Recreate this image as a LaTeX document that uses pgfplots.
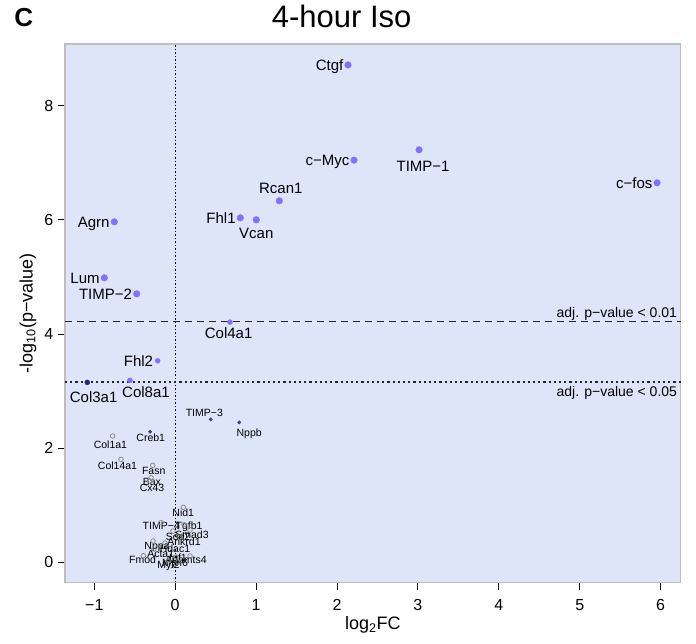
\documentclass[border=0pt]{standalone}
\usepackage{fontspec}
\setmainfont{Liberation Sans}
\usepackage{pgfplots}
\usepackage{pgfplotstable}
\pgfplotsset{compat=1.18}

\definecolor{bgblue}{HTML}{DCE6F8}
\definecolor{dotlight}{HTML}{8470FF}
\definecolor{dotdark}{HTML}{483D8B}
\definecolor{dotnavy}{HTML}{25256E}
\definecolor{framegray}{HTML}{BEBEBE}
\definecolor{opengray}{HTML}{8C8C8C}

\newcommand{\fs}[1]{\fontsize{#1}{#1}\selectfont}

% significant, large dots
\pgfplotstableread{
x y
2.136 8.713
2.210 7.046
3.014 7.226
5.956 6.648
1.287 6.333
0.805 6.035
1.002 6.000
-0.753 5.965
-0.876 4.984
-0.476 4.704
}\sigbig
% significant, medium dots
\pgfplotstableread{
x y
0.677 4.208
-0.216 3.531
-0.559 3.187
}\sigmed
\pgfplotstableread{
x y
-1.087 3.152
}\navy
\pgfplotstableread{
x y
0.439 2.504
0.792 2.452
-0.311 2.287
}\darksmall
% not significant
\pgfplotstableread{
x y
-0.773 2.213
-0.670 1.804
-0.278 1.699
-0.299 1.482
-0.315 1.424
0.100 0.964
-0.176 0.694
0.109 0.659
-0.027 0.548
0.183 0.566
0.059 0.443
-0.274 0.373
-0.126 0.338
-0.262 0.233
-0.394 0.116
0.183 0.110
0.010 0.093
-0.089 0.023
0.035 0.005
}\nonsig

\tikzset{
  big/.style={font=\fs{15}, inner sep=0pt, anchor=base, yshift=-5.4pt},
  bige/.style={font=\fs{15}, inner sep=0pt, anchor=base east, yshift=-5.4pt, xshift=-4.5pt},
  sm/.style={font=\fs{10.5}, inner sep=0pt, anchor=base, yshift=-3.8pt},
}

\begin{document}
\begin{tikzpicture}
\path[use as bounding box] (0,0) rectangle (696pt,644pt);
\begin{axis}[
  at={(65pt,61.7pt)}, anchor=south west,
  scale only axis, width=615.7pt, height=538.3pt,
  xmin=-1.362, xmax=6.248, ymin=-0.350, ymax=9.080,
  clip=false,
  axis background/.style={fill=bgblue},
  axis line style={draw=framegray, line width=1.2pt},
  tick align=outside, major tick length=7.5pt,
  tick style={black, line width=0.9pt},
  xtick pos=left, ytick pos=left,
  xtick={-1,0,...,6}, xticklabels={−1,0,1,2,3,4,5,6},
  ytick={0,2,4,6,8}, yticklabels={0,2,4,6,8},
  xticklabel style={font=\fs{16}, inner sep=0pt, anchor=north, yshift=-9pt},
  yticklabel style={font=\fs{16}, inner sep=0pt, anchor=east, xshift=-4pt},
  title={4-hour Iso},
  title style={font=\fs{31}, at={(axis description cs:0.4494,1.0409)}, anchor=center, inner sep=0pt},
  xlabel={log\textsubscript{2}FC},
  xlabel style={font=\fs{18}, at={(axis description cs:0.5,-0.0799)}, anchor=center, inner sep=0pt},
  ylabel={-log\textsubscript{10}(p−value)},
  ylabel style={font=\fs{18}, at={(axis description cs:-0.0601,0.5)}, anchor=center, rotate=0, inner sep=0pt},
]
% reference lines
\draw[black, line width=0.9pt, dash pattern=on 1.5pt off 2pt]
  (axis cs:0,-0.350) -- (axis cs:0,9.080);
\draw[black!85, line width=1.2pt, dash pattern=on 7pt off 5pt]
  (axis cs:-1.362,4.218) -- (axis cs:6.248,4.218);
\draw[black!85, line width=1.2pt, dash pattern=on 2.2pt off 3pt]
  (axis cs:-1.362,3.16) -- (axis cs:6.248,3.16);
\node[font=\fs{14}, inner sep=0pt, anchor=base east, xshift=-3.5pt, yshift=4pt]
  at (axis cs:6.248,4.218) {adj. p−value < 0.01};
\node[font=\fs{14}, inner sep=0pt, anchor=base east, xshift=-3.5pt, yshift=-14.5pt]
  at (axis cs:6.248,3.16) {adj. p−value < 0.05};

\addplot[only marks, mark=o, mark size=2.3pt, mark options={draw=opengray, line width=0.8pt}] table {\nonsig};
\addplot[only marks, mark=*, mark size=1.7pt, mark options={draw=dotdark, fill=dotdark}] table {\darksmall};
\addplot[only marks, mark=*, mark size=2.5pt, mark options={draw=dotnavy, fill=dotnavy}] table {\navy};
\addplot[only marks, mark=*, mark size=2.5pt, mark options={draw=dotlight, fill=dotlight}] table {\sigmed};
\addplot[only marks, mark=*, mark size=3.3pt, mark options={draw=dotlight, fill=dotlight}] table {\sigbig};

% large labels
\node[bige] at (axis cs:2.136,8.713) {Ctgf};
\node[bige] at (axis cs:2.210,7.046) {c−Myc};
\node[big, xshift=4pt, yshift=-16pt] at (axis cs:3.014,7.226) {TIMP−1};
\node[bige] at (axis cs:5.956,6.648) {c−fos};
\node[big, xshift=1.5pt, yshift=12.4pt] at (axis cs:1.287,6.333) {Rcan1};
\node[bige] at (axis cs:0.805,6.035) {Fhl1};
\node[big, yshift=-13.6pt] at (axis cs:1.002,6.000) {Vcan};
\node[bige] at (axis cs:-0.753,5.965) {Agrn};
\node[bige] at (axis cs:-0.876,4.984) {Lum};
\node[bige] at (axis cs:-0.476,4.704) {TIMP−2};
\node[big, xshift=-1.3pt, yshift=-10.7pt] at (axis cs:0.677,4.208) {Col4a1};
\node[bige] at (axis cs:-0.216,3.531) {Fhl2};
\node[big, xshift=16pt, yshift=-11.4pt] at (axis cs:-0.559,3.187) {Col8a1};
\node[big, xshift=6.4pt, yshift=-14.4pt] at (axis cs:-1.087,3.152) {Col3a1};

% small labels
\node[sm, xshift=-6.4pt, yshift=7pt] at (axis cs:0.439,2.504) {TIMP−3};
\node[sm, xshift=9.9pt, yshift=-10pt] at (axis cs:0.792,2.452) {Nppb};
\node[sm, xshift=0.7pt, yshift=-6pt] at (axis cs:-0.311,2.287) {Creb1};
\node[sm, xshift=-2.2pt, yshift=-8.3pt] at (axis cs:-0.773,2.213) {Col1a1};
\node[sm, xshift=-3.5pt, yshift=-6.4pt] at (axis cs:-0.670,1.804) {Col14a1};
\node[sm, xshift=1pt, yshift=-5pt] at (axis cs:-0.278,1.699) {Fasn};
\node[sm, xshift=0.8pt, yshift=-4pt] at (axis cs:-0.299,1.482) {Bax};
\node[sm, xshift=2.3pt, yshift=-6.7pt] at (axis cs:-0.315,1.424) {Cx43};
\node[sm, yshift=-5.4pt] at (axis cs:0.100,0.964) {Nid1};
\node[sm, xshift=0.3pt, yshift=-3.3pt] at (axis cs:-0.176,0.694) {TIMP−4};
\node[sm, xshift=5pt, yshift=-1.3pt] at (axis cs:0.109,0.659) {Tgfb1};
\node[sm, xshift=5pt, yshift=-5.7pt] at (axis cs:-0.027,0.548) {Sod2};
\node[sm, xshift=2pt, yshift=-5pt] at (axis cs:0.183,0.566) {Smad3};
\node[sm, xshift=4pt, yshift=-4.7pt] at (axis cs:0.059,0.443) {Ankrd1};
\node[sm, xshift=4pt, yshift=-5pt] at (axis cs:-0.274,0.373) {Nppa};
\node[sm, xshift=10pt, yshift=-5.3pt] at (axis cs:-0.126,0.338) {Hdac1};
\node[sm, xshift=6.7pt, yshift=-4.3pt] at (axis cs:-0.262,0.233) {Acta1};
\node[sm, xshift=-0.8pt, yshift=-4.3pt] at (axis cs:-0.394,0.116) {Fmod};
\node[sm, xshift=-4pt, yshift=-4pt] at (axis cs:0.183,0.110) {Adamts4};
\node[sm, xshift=2pt, yshift=-1pt] at (axis cs:0.010,0.093) {Igf1};
\node[sm, xshift=0.5pt, yshift=-4pt] at (axis cs:-0.089,0.023) {Myl2};
\node[sm, xshift=-3pt, yshift=-1pt] at (axis cs:0.035,0.005) {Myh6};
\end{axis}
\node[font=\fs{26}\bfseries, inner sep=0pt, anchor=center] at (23.8pt,626.5pt) {C};
\end{tikzpicture}
\end{document}
